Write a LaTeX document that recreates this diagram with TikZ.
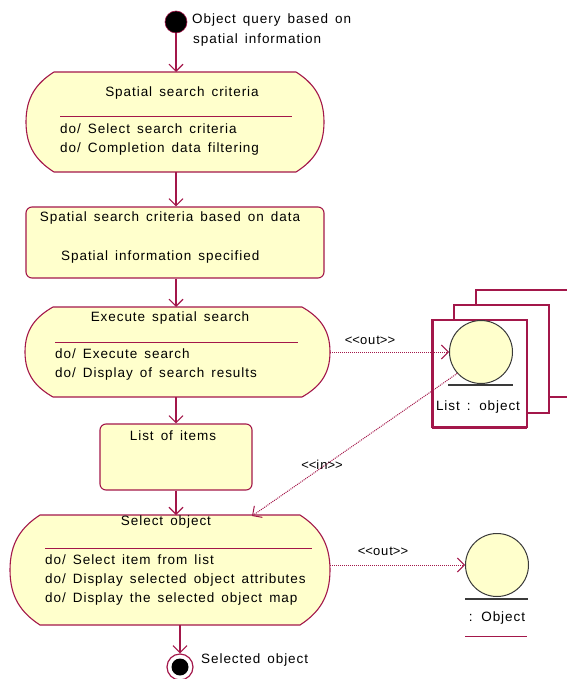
\documentclass[tikz,border=0pt]{standalone}
\usepackage{fontspec}
\setmainfont{Liberation Sans}
\newfontfamily\diafont{Liberation Sans}[LetterSpace=7,WordSpace=1.5]
\usetikzlibrary{arrows.meta,calc}
\definecolor{edge}{HTML}{A3174A}
\definecolor{fillc}{HTML}{FFFFCC}
\definecolor{objline}{HTML}{3A3A3A}
\newcommand\actoutline[5]{%
  \pgfmathsetmacro\mh{(#2+#4)/2}%
  \pgfmathsetmacro\hh{(#4-#2)}%
  \draw[actline] (#1+#5,#2) -- (#3-#5,#2)
    .. controls (#3-0.38*#5,#2+0.11*\hh) and (#3,#2+0.25*\hh) .. (#3,\mh)
    .. controls (#3,#4-0.25*\hh) and (#3-0.38*#5,#4-0.11*\hh) .. (#3-#5,#4)
    -- (#1+#5,#4)
    .. controls (#1+0.38*#5,#4-0.11*\hh) and (#1,#4-0.25*\hh) .. (#1,\mh)
    .. controls (#1,#2+0.25*\hh) and (#1+0.38*#5,#2+0.11*\hh) .. cycle;}
\newcommand\stereo[1]{\textless\kern0pt\textless\kern0pt#1\kern0pt\textgreater\kern0pt\textgreater}
\tikzset{
  actline/.style={draw=edge, fill=fillc, line width=1.1pt},
  box/.style={draw=none, inner sep=0pt, outer sep=0pt},
  rbox/.style={draw=edge, fill=fillc, line width=1.1pt, rounded corners=6pt, inner sep=0pt},
  sep/.style={draw=edge, line width=1pt},
  flow/.style={draw=edge, line width=1.1pt, -{Straight Barb[length=7pt,width=14pt,line width=1.1pt]}},
  dep/.style={draw=edge, line width=1pt, densely dotted, -{Straight Barb[length=7pt,width=14pt,line width=1pt]}},
  txt/.style={font=\diafont\fontsize{13.5}{19.5}\selectfont, inner sep=0pt, text=black},
  stxt/.style={font=\diafont\fontsize{13.5}{19.5}\selectfont, inner sep=0pt, text=black},
  lab/.style={font=\diafont\fontsize{13}{15}\selectfont, inner sep=0pt, text=black},
  objc/.style={circle, draw=objline, fill=fillc, line width=1pt, minimum size=63pt, inner sep=0pt},
  stack/.style={draw=edge, fill=white, line width=1.1pt},
}
\begin{document}
\begin{tikzpicture}[x=1pt,y=-1pt]
\useasboundingbox (0,0) rectangle (566,679);
% initial
\node[circle, fill=black, draw=edge, line width=0.6pt, minimum size=22pt, inner sep=0pt] (init) at (176,22) {};
\node[stxt, anchor=west] (initl) at (192,20) {Object query based on};
\node[stxt, anchor=west] (initl2) at (193,40) {spatial information};
% state 1
\actoutline{26}{72}{324}{172}{28}
\node[box, minimum width=298pt, minimum height=100pt] (s1) at (175,122) {};
\node[txt] (s1t) at (182,93) {Spatial search criteria};
\draw[sep] (60,117) -- (292,117);
\node[txt, anchor=west] (s1a) at (60,129) {do/ Select search criteria};
\node[txt, anchor=west] (s1b) at (60,149) {do/ Completion data filtering};
% state 2
\node[rbox, minimum width=298pt, minimum height=71pt] (s2) at (175,242.5) {};
\node[txt] (s2a) at (170,218) {Spatial search criteria based on data};
\node[txt, anchor=west] (s2b) at (61,257) {Spatial information specified};
% state 3
\actoutline{25}{307}{330}{397}{28}
\node[box, minimum width=305pt, minimum height=90pt] (s3) at (177.5,352) {};
\node[txt] (s3t) at (170,318) {Execute spatial search};
\draw[sep] (55,342) -- (298,342);
\node[txt, anchor=west] (s3a) at (55,354) {do/ Execute search};
\node[txt, anchor=west] (s3b) at (55,374) {do/ Display of search results};
% list of items
\node[rbox, minimum width=152pt, minimum height=66pt] (s4) at (176,457) {};
\node[txt] (s4t) at (173,436) {List of items};
% state 5
\actoutline{10}{515}{330}{625}{30}
\node[box, minimum width=320pt, minimum height=110pt] (s5) at (170,570) {};
\node[txt] (s5t) at (166,522) {Select object};
\draw[sep] (45,548) -- (312,548);
\node[txt, anchor=west] (s5a) at (45,560) {do/ Select item from list};
\node[txt, anchor=west] (s5b) at (45,580) {do/ Display selected object attributes};
\node[txt, anchor=west] (s5c) at (45,599) {do/ Display the selected object map};
% final
\node[circle, draw=edge, fill=white, line width=1.2pt, minimum size=26pt, inner sep=0pt] (fin) at (180,667) {};
\node[circle, fill=black, minimum size=17pt, inner sep=0pt] (finc) at (180,667) {};
\node[stxt, anchor=west] (finl) at (201,660) {Selected object};
% object stack
\draw[stack] (476,397) -- (476,290) -- (575,290);
\draw[stack] (549,397) -- (575,397);
\draw[stack] (454,305) rectangle (549,413);
\draw[stack] (432,320) rectangle (527,427);
\draw[edge, line width=2pt] (433,320) -- (433,428) -- (527,428);
\node[objc] (o1) at (481,352) {};
\draw[objline, line width=1.2pt] (448,385) -- (513,385);
\node[stxt] (o1l) at (478,407) {List : object};
% object 2
\node[objc] (o2) at (497,565) {};
\draw[objline, line width=1.2pt] (465,599) -- (528,599);
\node[stxt] (o2l) at (497,618) {: Object};
\draw[edge, line width=1pt] (465,636) -- (527,636);
% connectors
\draw[flow] (init) -- (s1.north -| init);
\draw[flow] (s1.south -| init) -- (s2.north -| init);
\draw[flow] (s2.south -| init) -- (s3.north -| init);
\draw[flow] (s3.south -| s4.north) -- (s4.north);
\draw[flow] (s4.south) -- (s4.south |- s5.north);
\draw[flow] (s5.south -| fin) -- (fin);
\draw[dep] (s3.east |- o1.west) -- (o1.west);
\node[lab] (l1) at (370,340) {\stereo{out}};
\coordinate (inend) at (252,516);
\draw[dep] (o1.222) -- (inend);
\node[lab] (l2) at (322,465) {\stereo{in}};
\draw[dep] (s5.east |- o2.west) -- (o2.west);
\node[lab] (l3) at (383,551) {\stereo{out}};
\end{tikzpicture}
\end{document}
